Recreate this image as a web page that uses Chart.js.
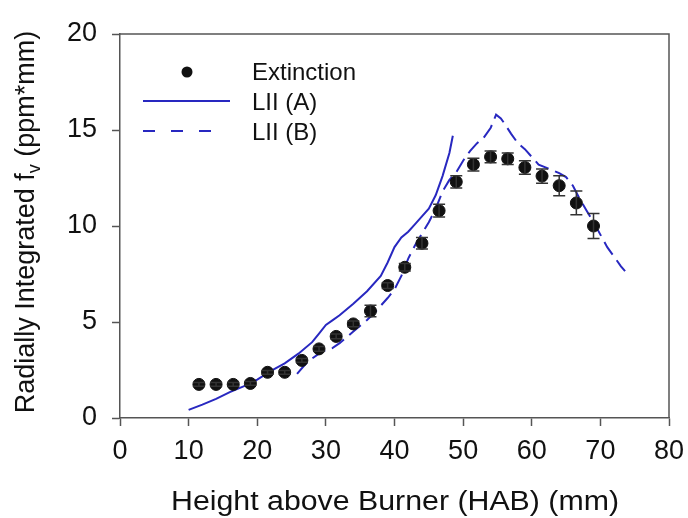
<!DOCTYPE html>
<html>
<head>
<meta charset="utf-8">
<script src="https://cdn.jsdelivr.net/npm/chart.js@4.4.0/dist/chart.umd.min.js"></script>
<style>
  html, body { margin: 0; padding: 0; background: #fff; }
</style>
</head>
<body>
<canvas id="fvChart" width="688" height="518"></canvas>
<script>
// Radially integrated soot volume fraction vs height above burner

const FONT = "'Liberation Sans', Arial, sans-serif";
const BLUE = '#2828c0';
const AXIS = '#555';

// Extinction measurements (points with error bars)
const extHab = [11.5, 14, 16.5, 19, 21.5, 24, 26.5, 29, 31.5, 34, 36.5, 39, 41.5, 44, 46.5, 49, 51.5, 54, 56.5, 59, 61.5, 64, 66.5, 69];
const extFv = [1.75, 1.75, 1.75, 1.8, 2.38, 2.38, 3.0, 3.6, 4.25, 4.9, 5.57, 6.9, 7.85, 9.1, 10.8, 12.3, 13.2, 13.6, 13.5, 13.05, 12.6, 12.1, 11.2, 10.0];
const extErr = [0.1, 0.1, 0.1, 0.1, 0.1, 0.1, 0.1, 0.12, 0.12, 0.15, 0.3, 0.15, 0.2, 0.3, 0.33, 0.32, 0.33, 0.3, 0.3, 0.35, 0.37, 0.52, 0.62, 0.65];

// LII (A) - solid line
const liiAHab = [10, 12, 14, 16, 18, 20, 22, 24, 26, 28, 29, 30, 31, 32, 34, 36, 38, 39, 40, 41, 42, 43, 44, 45, 46, 47, 48, 48.5];
const liiAFv = [0.42, 0.7, 1.0, 1.35, 1.65, 2.0, 2.45, 2.85, 3.35, 3.95, 4.4, 4.85, 5.1, 5.35, 5.95, 6.6, 7.4, 8.1, 8.9, 9.4, 9.7, 10.1, 10.5, 10.9, 11.6, 12.6, 13.8, 14.7];

// LII (B) - dashed line
const liiBHab = [25.8, 27, 28, 29, 30, 31, 32, 33, 34, 35, 36, 37, 38, 39, 40, 41, 42, 43, 44, 45, 46, 47, 48, 49, 50, 51, 52, 53, 54, 54.8, 55.5, 56, 57, 58, 59, 60, 61, 62, 63, 64, 65, 66, 67, 68, 69, 70, 71, 72, 73, 73.6];
const liiBFv = [2.3, 2.8, 3.1, 3.35, 3.55, 3.65, 3.9, 4.2, 4.5, 4.8, 5.1, 5.45, 5.85, 6.25, 6.7, 7.4, 8.3, 9.0, 9.6, 10.2, 10.9, 11.8, 12.4, 12.8, 13.4, 13.9, 14.3, 14.6, 15.1, 15.8, 15.6, 15.35, 14.8, 14.3, 14.0, 13.6, 13.2, 13.05, 12.9, 12.75, 12.55, 12.1, 11.4, 10.8, 10.2, 9.55, 8.9, 8.4, 7.9, 7.65];

const xTicks = [0, 10, 20, 30, 40, 50, 60, 70, 80];
const yTicks = [0, 5, 10, 15, 20];
const xTitle = 'Height above Burner (HAB) (mm)';

const toPoints = (xs, ys) => xs.map((x, i) => ({ x: x, y: ys[i] }));

// error bars for the extinction series
const errorBars = {
  id: 'errorBars',
  afterDatasetsDraw(chart) {
    const { ctx, scales: { x, y } } = chart;
    ctx.save();
    ctx.strokeStyle = '#333';
    ctx.lineWidth = 1.5;
    extHab.forEach((h, i) => {
      const px = x.getPixelForValue(h);
      const top = y.getPixelForValue(extFv[i] + extErr[i]);
      const bot = y.getPixelForValue(extFv[i] - extErr[i]);
      ctx.beginPath();
      ctx.moveTo(px, top); ctx.lineTo(px, bot);
      ctx.moveTo(px - 6, top); ctx.lineTo(px + 6, top);
      ctx.moveTo(px - 6, bot); ctx.lineTo(px + 6, bot);
      ctx.stroke();
    });
    ctx.restore();
  }
};

// frame, axis titles, legend
const decorations = {
  id: 'decorations',
  afterDraw(chart) {
    const { ctx, chartArea: a } = chart;
    ctx.save();
    // top and right frame lines
    ctx.strokeStyle = AXIS;
    ctx.lineWidth = 1.5;
    ctx.beginPath();
    ctx.moveTo(a.left, a.top); ctx.lineTo(a.right, a.top); ctx.lineTo(a.right, a.bottom);
    ctx.stroke();

    // x axis title (slightly wide lettering as in the original)
    ctx.fillStyle = '#111';
    ctx.textAlign = 'center';
    ctx.textBaseline = 'alphabetic';
    ctx.font = '27px ' + FONT;
    const tw = ctx.measureText(xTitle).width;
    ctx.translate(395, 510);
    ctx.scale(448 / tw, 1);
    ctx.fillText(xTitle, 0, 0);
    ctx.setTransform(1, 0, 0, 1, 0, 0);

    // y axis title with subscript v
    ctx.textBaseline = 'middle';
    ctx.textAlign = 'left';
    const p1 = 'Radially Integrated f', sub = 'v', p3 = ' (ppm*mm)';
    ctx.font = '27px ' + FONT;
    const w1 = ctx.measureText(p1).width, w3 = ctx.measureText(p3).width;
    ctx.font = '18px ' + FONT;
    const w2 = ctx.measureText(sub).width;
    const total = w1 + w2 + w3;
    ctx.translate(27, 222);
    ctx.rotate(-Math.PI / 2);
    let cx = -total / 2;
    ctx.font = '27px ' + FONT;
    ctx.fillText(p1, cx, 0);
    cx += w1;
    ctx.font = '18px ' + FONT;
    ctx.fillText(sub, cx, 8);
    cx += w2;
    ctx.font = '27px ' + FONT;
    ctx.fillText(p3, cx, 0);
    ctx.setTransform(1, 0, 0, 1, 0, 0);

    // legend
    ctx.font = '24px ' + FONT;
    ctx.fillStyle = '#111';
    ctx.beginPath();
    ctx.arc(187, 72, 5.5, 0, Math.PI * 2);
    ctx.fill();
    ctx.fillText('Extinction', 252, 73);

    ctx.strokeStyle = BLUE;
    ctx.lineWidth = 2;
    ctx.beginPath();
    ctx.moveTo(143, 101); ctx.lineTo(230, 101);
    ctx.stroke();
    ctx.fillText('LII (A)', 252, 103);

    ctx.setLineDash([12, 16]);
    ctx.beginPath();
    ctx.moveTo(143, 131); ctx.lineTo(222, 131);
    ctx.stroke();
    ctx.setLineDash([]);
    ctx.fillText('LII (B)', 252, 133);
    ctx.restore();
  }
};

new Chart(document.getElementById('fvChart'), {
  type: 'scatter',
  data: {
    datasets: [
      {
        label: 'Extinction',
        data: toPoints(extHab, extFv),
        pointRadius: 6,
        pointBackgroundColor: '#111',
        pointBorderColor: '#111',
        showLine: false,
        order: 0
      },
      {
        label: 'LII (A)',
        data: toPoints(liiAHab, liiAFv),
        showLine: true,
        borderColor: BLUE,
        borderWidth: 2,
        pointRadius: 0,
        tension: 0,
        order: 1
      },
      {
        label: 'LII (B)',
        data: toPoints(liiBHab, liiBFv),
        showLine: true,
        borderColor: BLUE,
        borderWidth: 2,
        borderDash: [15, 7],
        pointRadius: 0,
        tension: 0,
        order: 2
      }
    ]
  },
  options: {
    responsive: false,
    animation: false,
    layout: { padding: { top: 34, right: 19, left: 0, bottom: 0 } },
    plugins: {
      legend: { display: false },
      tooltip: { enabled: false }
    },
    scales: {
      x: {
        type: 'linear',
        min: 0, max: 80,
        afterBuildTicks: s => { s.ticks = xTicks.map(v => ({ value: v })); },
        afterFit: s => { s.height = 100; s.paddingLeft = 0; s.paddingRight = 0; },
        ticks: { font: { family: FONT, size: 27 }, color: '#111', padding: 9, maxRotation: 0 },
        grid: { drawOnChartArea: false, drawTicks: true, tickLength: 8, tickColor: AXIS, tickWidth: 1.5 },
        border: { color: AXIS, width: 1.5 }
      },
      y: {
        type: 'linear',
        min: 0, max: 20,
        afterBuildTicks: s => { s.ticks = yTicks.map(v => ({ value: v })); },
        afterFit: s => { s.width = 120; s.paddingTop = 0; s.paddingBottom = 0; },
        ticks: { font: { family: FONT, size: 27 }, color: '#111', padding: 15 },
        grid: { drawOnChartArea: false, drawTicks: true, tickLength: 8, tickColor: AXIS, tickWidth: 1.5 },
        border: { color: AXIS, width: 1.5 }
      }
    }
  },
  plugins: [errorBars, decorations]
});
</script>
</body>
</html>
